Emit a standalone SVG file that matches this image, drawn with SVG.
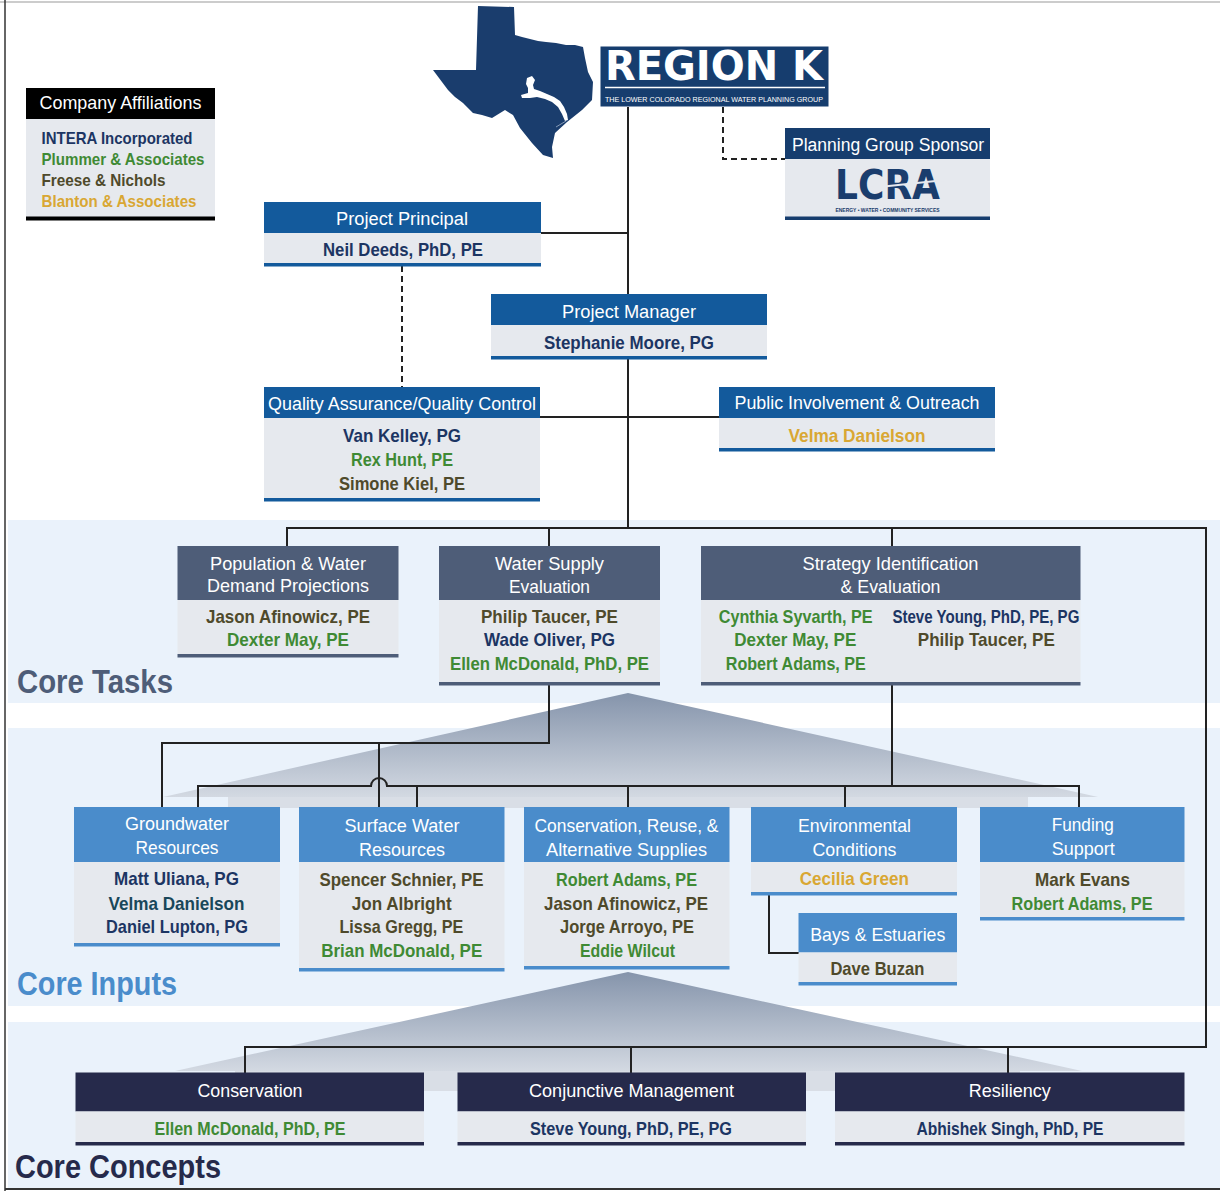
<svg xmlns="http://www.w3.org/2000/svg" width="1220" height="1191" viewBox="0 0 1220 1191">
<style>
text{font-family:"Liberation Sans",Arial,sans-serif}
.h{font-size:18px;fill:#fff;text-anchor:middle}
.h2{font-size:19px;fill:#fff;text-anchor:middle}
.n{font-size:19px;font-weight:bold;text-anchor:middle}
.lg{font-size:17px;font-weight:bold}
.nv{fill:#1c3563}.gr{fill:#3f8a34}.ol{fill:#4f4a2b}.gd{fill:#d9a733}.tl{fill:#19475a}
.body{fill:#e6e9ee}
.hb{fill:#135a9c}.hn{fill:#163d6e}.hs{fill:#4e5d78}.hi{fill:#4a8ccb}.hc{fill:#262a4b}
.ln{stroke:#222;stroke-width:2;fill:none}
.dash{stroke:#222;stroke-width:2;fill:none;stroke-dasharray:6 4}
.band{fill:#eaf2fb}
.sec{font-size:34px;font-weight:bold}
</style>
<defs>
<linearGradient id="pyr" x1="0" y1="0" x2="0" y2="1">
<stop offset="0" stop-color="#8594ab"/>
<stop offset="1" stop-color="#d3d9e2"/>
</linearGradient>
</defs>
<rect width="1220" height="1191" fill="#fff"/>
<g id="bands">
<rect class="band" x="8" y="520" width="1212" height="183"/>
<rect class="band" x="8" y="728" width="1212" height="278"/>
<rect class="band" x="8" y="1022" width="1212" height="166"/>
</g>
<g id="frame">
<line x1="0" y1="2" x2="1220" y2="2" stroke="#bbb" stroke-width="1.5"/>
<line x1="5" y1="0" x2="5" y2="1191" stroke="#333" stroke-width="1.5"/>
<line x1="5" y1="1189" x2="1220" y2="1189" stroke="#333" stroke-width="2"/>
</g>
<g id="pyramids">
<polygon points="628,693 1098,797 163,797" fill="url(#pyr)"/>
<rect x="228" y="797" width="800" height="11" fill="#d9dee6"/>
<polygon points="628,972 1082,1071 175,1071" fill="url(#pyr)"/>
<rect x="235" y="1071" width="785" height="20" fill="#d9dee6"/>
</g>
<g id="connectors">
<path class="ln" d="M628,107 V528"/>
<path class="ln" d="M541,233 H628"/>
<path class="ln" d="M540,417 H719"/>
<path class="dash" d="M402,266 V387"/>
<path class="dash" d="M723,107 V159 H785"/>
<path class="ln" d="M287,546 V528 H1206 V1047 H245 V1073"/>
<path class="ln" d="M549,528 V546"/>
<path class="ln" d="M892,528 V546"/>
<path class="ln" d="M631,1047 V1073"/>
<path class="ln" d="M1008,1047 V1073"/>
<path class="ln" d="M549,685 V743 H162 V807"/>
<path class="ln" d="M379,743 V807"/>
<path class="ln" d="M198,807 V786 H371 A8,8 0 0 1 387,786 H1079 V807"/>
<path class="ln" d="M417,786 V807"/>
<path class="ln" d="M628,786 V807"/>
<path class="ln" d="M845,786 V807"/>
<path class="ln" d="M892,685 V786"/>
<path class="ln" d="M769,895 V953 H799"/>
</g>
<g id="legend">
<rect x="26" y="88" width="189" height="31" fill="#000"/>
<rect x="26" y="119" width="189" height="98" class="body"/>
<rect x="26" y="216.5" width="189" height="4" fill="#000"/>
<text x="39.5" y="108.5" font-size="19" fill="#fff" textLength="162" lengthAdjust="spacingAndGlyphs">Company Affiliations</text>
<text class="lg nv" x="41.5" y="143.5" textLength="151" lengthAdjust="spacingAndGlyphs">INTERA Incorporated</text>
<text class="lg gr" x="41.5" y="164.5" textLength="163" lengthAdjust="spacingAndGlyphs">Plummer &amp; Associates</text>
<text class="lg ol" x="41.5" y="185.5" textLength="124" lengthAdjust="spacingAndGlyphs">Freese &amp; Nichols</text>
<text class="lg gd" x="41.5" y="206.5" textLength="155" lengthAdjust="spacingAndGlyphs">Blanton &amp; Associates</text>
</g>
<g id="region-k">
<path fill="#1a3d6d" d="M478,6 L514,7 L515,35 L522,37 L530,39 L538,41 L546,42 L556,43 L566,45 L575,45 L583,47 L585,58 L588,72 L593,82 L592,100 L582,110 L567,122 L555,133 L552,147 L553,158 L543,155 L532,143 L520,128 L513,115 L505,110 L492,118 L482,115 L473,113 L463,103 L455,97 L448,90 L433,70 L476,70 Z"/>
<path fill="#fff" d="M527,78 L532,76 L535,80 L533,85 L534,89 L540,91 L547,94 L554,97 L560,101 L564,107 L567,114 L568,120 L565,121 L562,114 L558,107 L552,102 L545,99 L537,97 L530,98 L522,98 L521,95 L528,93 L528,88 L526,84 Z"/>
<line x1="566" y1="121" x2="556" y2="127" stroke="#9fb0c6" stroke-width="0.8"/>
<rect x="600.5" y="46.5" width="228" height="60" fill="#163d6e"/>
<text x="605" y="80" font-size="41" font-weight="bold" fill="#fff" style="font-family:'DejaVu Sans','Liberation Sans',sans-serif" textLength="218" lengthAdjust="spacingAndGlyphs">REGION K</text>
<line x1="605" y1="87.5" x2="825" y2="87.5" stroke="#fff" stroke-width="1.5"/>
<text x="605" y="101.5" font-size="7.5" fill="#fff" textLength="218" lengthAdjust="spacingAndGlyphs">THE LOWER COLORADO REGIONAL WATER PLANNING GROUP</text>
</g>
<g id="sponsor">
<rect x="785" y="128" width="205" height="31" class="hn"/>
<rect x="785" y="159" width="205" height="58" class="body"/>
<rect x="785" y="216.5" width="205" height="3.5" class="hn"/>
<text class="h" x="888" y="151" textLength="192" lengthAdjust="spacingAndGlyphs">Planning Group Sponsor</text>
<text x="887.5" y="199" font-size="40" font-weight="bold" fill="#1a3d6d" text-anchor="middle" style="font-family:'DejaVu Sans','Liberation Sans',sans-serif" textLength="105" lengthAdjust="spacingAndGlyphs">LCRA</text>
<line x1="870" y1="188" x2="945" y2="180" stroke="#e6e9ee" stroke-width="2"/>
<text x="887.5" y="212" font-size="5" font-weight="bold" fill="#1a3d6d" text-anchor="middle" textLength="104" lengthAdjust="spacingAndGlyphs">ENERGY • WATER • COMMUNITY SERVICES</text>
</g>
<g id="project-principal">
<rect x="264" y="202" width="277" height="31" class="hb"/>
<rect x="264" y="233" width="277" height="30" class="body"/>
<rect x="264" y="263" width="277" height="3.5" class="hb"/>
<text class="h" x="402" y="225" textLength="132" lengthAdjust="spacingAndGlyphs">Project Principal</text>
<text class="n nv" x="403" y="255.5" textLength="160" lengthAdjust="spacingAndGlyphs">Neil Deeds, PhD, PE</text>
</g>
<g id="project-manager">
<rect x="491" y="294" width="276" height="31" class="hb"/>
<rect x="491" y="325" width="276" height="31" class="body"/>
<rect x="491" y="356" width="276" height="3.5" class="hb"/>
<text class="h" x="629" y="317.5" textLength="134" lengthAdjust="spacingAndGlyphs">Project Manager</text>
<text class="n nv" x="629" y="348.5" textLength="170" lengthAdjust="spacingAndGlyphs">Stephanie Moore, PG</text>
</g>
<g id="qaqc">
<rect x="264" y="387" width="276" height="31" class="hb"/>
<rect x="264" y="418" width="276" height="80" class="body"/>
<rect x="264" y="498" width="276" height="3.5" class="hb"/>
<text class="h" x="402" y="409.5" textLength="268" lengthAdjust="spacingAndGlyphs">Quality Assurance/Quality Control</text>
<text class="n nv" x="402" y="442" textLength="118" lengthAdjust="spacingAndGlyphs">Van Kelley, PG</text>
<text class="n gr" x="402" y="466" textLength="102" lengthAdjust="spacingAndGlyphs">Rex Hunt, PE</text>
<text class="n ol" x="402" y="490" textLength="126" lengthAdjust="spacingAndGlyphs">Simone Kiel, PE</text>
</g>
<g id="public-involvement">
<rect x="719" y="387" width="276" height="31" class="hb"/>
<rect x="719" y="418" width="276" height="30" class="body"/>
<rect x="719" y="448" width="276" height="3.5" class="hb"/>
<text class="h" x="857" y="409" textLength="245" lengthAdjust="spacingAndGlyphs">Public Involvement &amp; Outreach</text>
<text class="n gd" x="857" y="441.5" textLength="137" lengthAdjust="spacingAndGlyphs">Velma Danielson</text>
</g>
<g id="population">
<rect x="177.5" y="546" width="221" height="54" class="hs"/>
<rect x="177.5" y="600" width="221" height="54" class="body"/>
<rect x="177.5" y="654" width="221" height="3.5" class="hs"/>
<text class="h2" x="288" y="570" textLength="156" lengthAdjust="spacingAndGlyphs">Population &amp; Water</text>
<text class="h2" x="288" y="592" textLength="162" lengthAdjust="spacingAndGlyphs">Demand Projections</text>
<text class="n ol" x="288" y="622.5" textLength="164" lengthAdjust="spacingAndGlyphs">Jason Afinowicz, PE</text>
<text class="n gr" x="288" y="645.5" textLength="122" lengthAdjust="spacingAndGlyphs">Dexter May, PE</text>
</g>
<g id="water-supply">
<rect x="439" y="546" width="221" height="54" class="hs"/>
<rect x="439" y="600" width="221" height="82" class="body"/>
<rect x="439" y="682" width="221" height="3.5" class="hs"/>
<text class="h2" x="549.5" y="570" textLength="109" lengthAdjust="spacingAndGlyphs">Water Supply</text>
<text class="h2" x="549.5" y="593" textLength="81" lengthAdjust="spacingAndGlyphs">Evaluation</text>
<text class="n ol" x="549.5" y="622.5" textLength="137" lengthAdjust="spacingAndGlyphs">Philip Taucer, PE</text>
<text class="n nv" x="549.5" y="646" textLength="131" lengthAdjust="spacingAndGlyphs">Wade Oliver, PG</text>
<text class="n gr" x="549.5" y="670" textLength="199" lengthAdjust="spacingAndGlyphs">Ellen McDonald, PhD, PE</text>
</g>
<g id="strategy">
<rect x="701" y="546" width="379.5" height="54" class="hs"/>
<rect x="701" y="600" width="379.5" height="82" class="body"/>
<rect x="701" y="682" width="379.5" height="3.5" class="hs"/>
<text class="h2" x="890.5" y="570" textLength="176" lengthAdjust="spacingAndGlyphs">Strategy Identification</text>
<text class="h2" x="890.5" y="593" textLength="100" lengthAdjust="spacingAndGlyphs">&amp; Evaluation</text>
<text class="n gr" x="795.7" y="622.5" textLength="154" lengthAdjust="spacingAndGlyphs">Cynthia Syvarth, PE</text>
<text class="n gr" x="795.3" y="646" textLength="122" lengthAdjust="spacingAndGlyphs">Dexter May, PE</text>
<text class="n gr" x="795.8" y="670" textLength="140" lengthAdjust="spacingAndGlyphs">Robert Adams, PE</text>
<text class="n nv" x="985.9" y="622.5" textLength="187" lengthAdjust="spacingAndGlyphs">Steve Young, PhD, PE, PG</text>
<text class="n ol" x="986.3" y="646" textLength="137" lengthAdjust="spacingAndGlyphs">Philip Taucer, PE</text>
</g>
<text class="sec" x="17" y="693" fill="#4e5d78" textLength="156" lengthAdjust="spacingAndGlyphs">Core Tasks</text>
<g id="groundwater">
<rect x="74" y="807" width="206" height="55" class="hi"/>
<rect x="74" y="862" width="206" height="81" class="body"/>
<rect x="74" y="943" width="206" height="3.5" class="hi"/>
<text class="h2" x="177" y="830" textLength="104" lengthAdjust="spacingAndGlyphs">Groundwater</text>
<text class="h2" x="177" y="854" textLength="83" lengthAdjust="spacingAndGlyphs">Resources</text>
<text class="n nv" x="176.5" y="885" textLength="125" lengthAdjust="spacingAndGlyphs">Matt Uliana, PG</text>
<text class="n tl" x="176.5" y="909.5" textLength="136" lengthAdjust="spacingAndGlyphs">Velma Danielson</text>
<text class="n nv" x="177" y="933" textLength="142" lengthAdjust="spacingAndGlyphs">Daniel Lupton, PG</text>
</g>
<g id="surface-water">
<rect x="299" y="807" width="205.5" height="55" class="hi"/>
<rect x="299" y="862" width="205.5" height="106" class="body"/>
<rect x="299" y="968" width="205.5" height="3.5" class="hi"/>
<text class="h2" x="402" y="831.5" textLength="115" lengthAdjust="spacingAndGlyphs">Surface Water</text>
<text class="h2" x="402" y="855.5" textLength="86" lengthAdjust="spacingAndGlyphs">Resources</text>
<text class="n ol" x="401.5" y="886" textLength="164" lengthAdjust="spacingAndGlyphs">Spencer Schnier, PE</text>
<text class="n ol" x="401.7" y="909.5" textLength="100" lengthAdjust="spacingAndGlyphs">Jon Albright</text>
<text class="n ol" x="401.4" y="933" textLength="124" lengthAdjust="spacingAndGlyphs">Lissa Gregg, PE</text>
<text class="n gr" x="401.7" y="957" textLength="161" lengthAdjust="spacingAndGlyphs">Brian McDonald, PE</text>
</g>
<g id="conservation-reuse">
<rect x="524" y="807" width="205.5" height="55" class="hi"/>
<rect x="524" y="862" width="205.5" height="104" class="body"/>
<rect x="524" y="966" width="205.5" height="3.5" class="hi"/>
<text class="h2" x="626.5" y="831.5" textLength="184" lengthAdjust="spacingAndGlyphs">Conservation, Reuse, &amp;</text>
<text class="h2" x="626.5" y="855.5" textLength="161" lengthAdjust="spacingAndGlyphs">Alternative Supplies</text>
<text class="n gr" x="626.5" y="886" textLength="141" lengthAdjust="spacingAndGlyphs">Robert Adams, PE</text>
<text class="n ol" x="626" y="909.5" textLength="164" lengthAdjust="spacingAndGlyphs">Jason Afinowicz, PE</text>
<text class="n ol" x="627" y="933" textLength="134" lengthAdjust="spacingAndGlyphs">Jorge Arroyo, PE</text>
<text class="n gr" x="627.5" y="957" textLength="95" lengthAdjust="spacingAndGlyphs">Eddie Wilcut</text>
</g>
<g id="environmental">
<rect x="751" y="807" width="206" height="55" class="hi"/>
<rect x="751" y="862" width="206" height="30" class="body"/>
<rect x="751" y="892" width="206" height="3.5" class="hi"/>
<text class="h2" x="854.5" y="831.5" textLength="113" lengthAdjust="spacingAndGlyphs">Environmental</text>
<text class="h2" x="854.5" y="855.5" textLength="84" lengthAdjust="spacingAndGlyphs">Conditions</text>
<text class="n gd" x="854.3" y="885" textLength="109" lengthAdjust="spacingAndGlyphs">Cecilia Green</text>
</g>
<g id="bays-estuaries">
<rect x="798.5" y="913" width="158.5" height="39.5" class="hi"/>
<rect x="798.5" y="952.5" width="158.5" height="29.5" class="body"/>
<rect x="798.5" y="982" width="158.5" height="3.5" class="hi"/>
<text class="h2" x="877.8" y="940.5" textLength="135" lengthAdjust="spacingAndGlyphs">Bays &amp; Estuaries</text>
<text class="n ol" x="877.4" y="975" textLength="94" lengthAdjust="spacingAndGlyphs">Dave Buzan</text>
</g>
<g id="funding">
<rect x="980" y="807" width="204.5" height="55" class="hi"/>
<rect x="980" y="862" width="204.5" height="55" class="body"/>
<rect x="980" y="917" width="204.5" height="3.5" class="hi"/>
<text class="h2" x="1082.8" y="831" textLength="62" lengthAdjust="spacingAndGlyphs">Funding</text>
<text class="h2" x="1083.2" y="855" textLength="63" lengthAdjust="spacingAndGlyphs">Support</text>
<text class="n ol" x="1082.5" y="885.5" textLength="95" lengthAdjust="spacingAndGlyphs">Mark Evans</text>
<text class="n gr" x="1082" y="909.5" textLength="141" lengthAdjust="spacingAndGlyphs">Robert Adams, PE</text>
</g>
<text class="sec" x="17" y="995" fill="#4a8ccb" textLength="160" lengthAdjust="spacingAndGlyphs">Core Inputs</text>
<g id="conservation">
<rect x="75.5" y="1072.5" width="348.5" height="39" class="hc"/>
<rect x="75.5" y="1111.5" width="348.5" height="30.5" class="body"/>
<rect x="75.5" y="1142" width="348.5" height="3.5" class="hc"/>
<text class="h" x="250" y="1097" textLength="105" lengthAdjust="spacingAndGlyphs">Conservation</text>
<text class="n gr" x="250" y="1134.5" font-size="18" textLength="191" lengthAdjust="spacingAndGlyphs">Ellen McDonald, PhD, PE</text>
</g>
<g id="conjunctive-management">
<rect x="457.5" y="1072.5" width="348.5" height="39" class="hc"/>
<rect x="457.5" y="1111.5" width="348.5" height="30.5" class="body"/>
<rect x="457.5" y="1142" width="348.5" height="3.5" class="hc"/>
<text class="h" x="631.5" y="1097" textLength="205" lengthAdjust="spacingAndGlyphs">Conjunctive Management</text>
<text class="n nv" x="631" y="1134.5" font-size="18" textLength="202" lengthAdjust="spacingAndGlyphs">Steve Young, PhD, PE, PG</text>
</g>
<g id="resiliency">
<rect x="835" y="1072.5" width="349.5" height="39" class="hc"/>
<rect x="835" y="1111.5" width="349.5" height="30.5" class="body"/>
<rect x="835" y="1142" width="349.5" height="3.5" class="hc"/>
<text class="h" x="1009.8" y="1097" textLength="82" lengthAdjust="spacingAndGlyphs">Resiliency</text>
<text class="n nv" x="1010" y="1134.5" font-size="18" textLength="187" lengthAdjust="spacingAndGlyphs">Abhishek Singh, PhD, PE</text>
</g>
<text class="sec" x="15" y="1178" fill="#262a4b" textLength="206" lengthAdjust="spacingAndGlyphs">Core Concepts</text>
</svg>
